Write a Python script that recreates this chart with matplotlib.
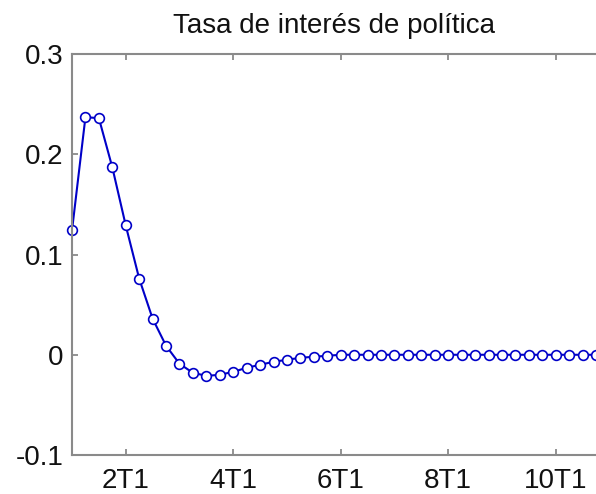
import matplotlib
matplotlib.use("Agg")
import matplotlib.pyplot as plt
import numpy as np

# quarters since 1T1 (t=1 is 1T1)
quarters = np.arange(1, 41)
rate = [0.124, 0.237, 0.236, 0.187, 0.129, 0.076, 0.036, 0.009, -0.009, -0.018,
        -0.021, -0.020, -0.017, -0.013, -0.010, -0.007, -0.005, -0.003, -0.002, -0.001,
        0, 0, 0, 0, 0, 0, 0, 0, 0, 0,
        0, 0, 0, 0, 0, 0, 0, 0, 0, 0]

xtick_pos = [5, 13, 21, 29, 37]
xtick_labels = ["2T1", "4T1", "6T1", "8T1", "10T1"]
ytick_pos = [-0.1, 0, 0.1, 0.2, 0.3]
ytick_labels = ["-0.1", "0", "0.1", "0.2", "0.3"]

plt.rcParams['font.family'] = ['Liberation Sans', 'DejaVu Sans']

fig = plt.figure(figsize=(5.96, 4.94), dpi=100)
ax = fig.add_axes([0.1208, 0.0789, 0.8792, 0.8118])

ax.plot(quarters, rate, '-o', color='#0000c8', lw=1.5,
        markersize=7, markerfacecolor='white', markeredgecolor='#0000c8',
        markeredgewidth=1.2, clip_on=False)

ax.set_xlim(1, 40)
ax.set_ylim(-0.1, 0.3)
ax.set_xticks(xtick_pos)
ax.set_xticklabels(xtick_labels)
ax.set_yticks(ytick_pos)
ax.set_yticklabels(ytick_labels)

ax.tick_params(direction='in', length=4, width=1.2, color='#808080',
               labelsize=20, top=True, labelcolor='#111111')
ax.tick_params(axis='x', pad=9)
ax.tick_params(axis='y', pad=6)

for side in ['left', 'bottom', 'top']:
    ax.spines[side].set_color('#8a8a8a')
    ax.spines[side].set_linewidth(1.5)
ax.spines['right'].set_visible(False)

ax.set_title("Tasa de interés de política", fontsize=20, color='#111111', pad=15)

fig.savefig("out.png", dpi=100)
